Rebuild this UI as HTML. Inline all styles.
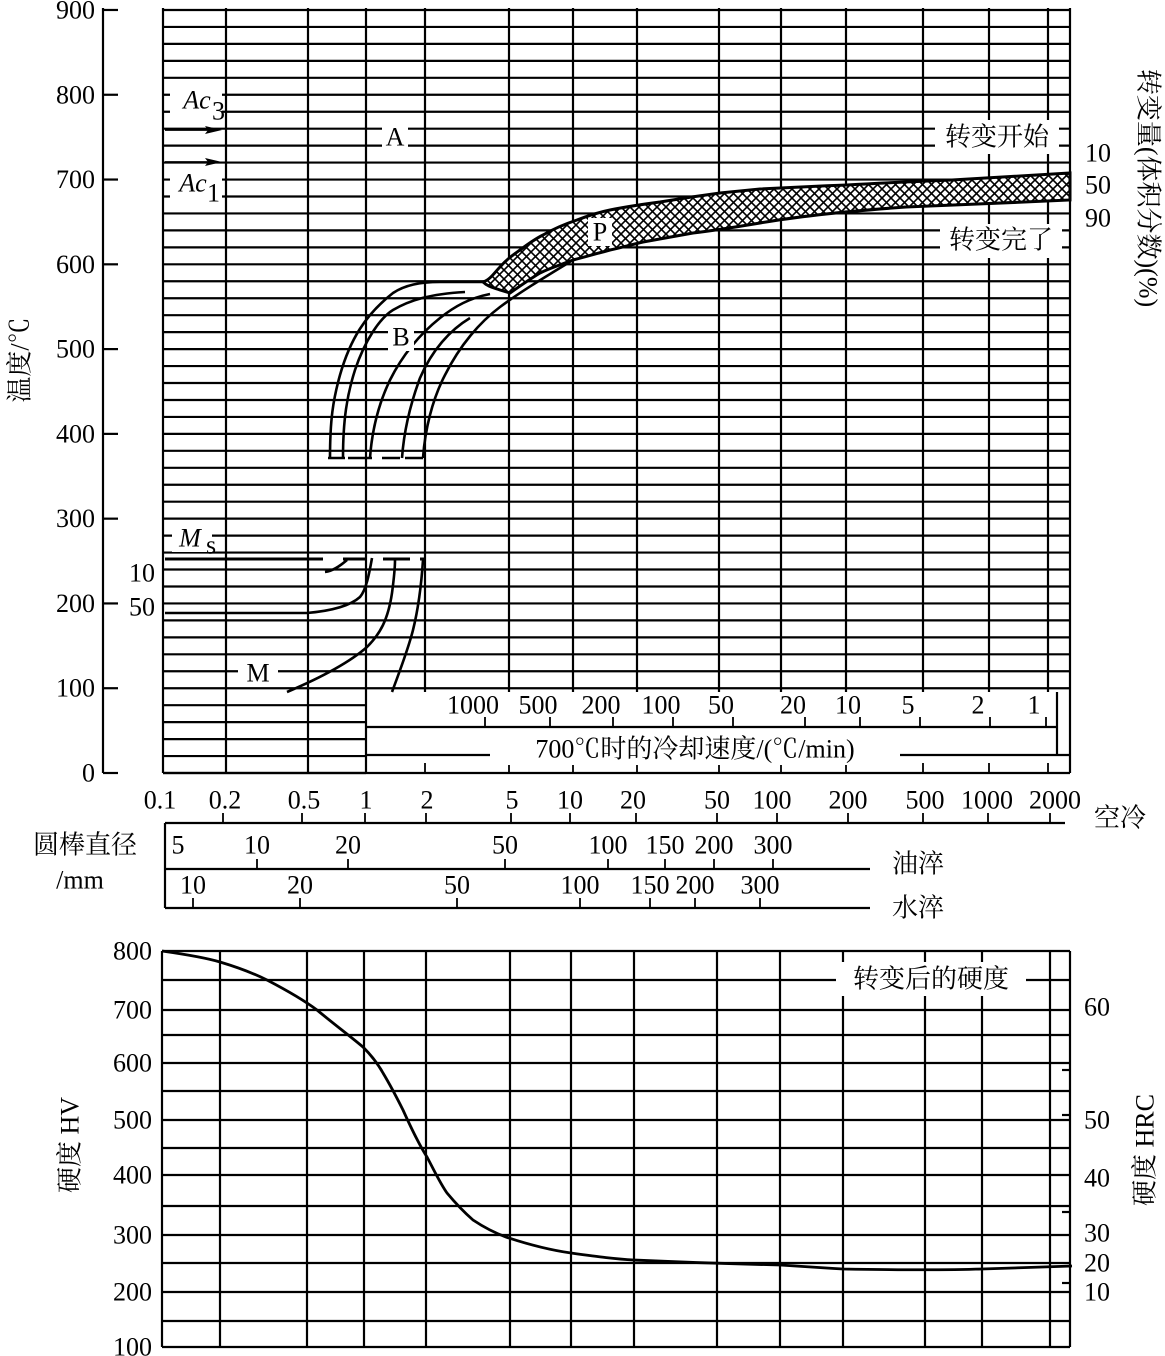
<!DOCTYPE html>
<html><head><meta charset="utf-8">
<style>
html,body{margin:0;padding:0;background:#fff;}
svg{display:block;}
text{font-family:"Liberation Serif","Noto Serif CJK SC",serif;font-size:26px;fill:#000;}
.c{font-family:"Liberation Serif","Noto Serif CJK SC",serif;}
</style></head>
<body>
<svg id="s" width="1165" height="1356" viewBox="0 0 1165 1356" xmlns="http://www.w3.org/2000/svg">
<defs>
<pattern id="h" width="9" height="9" patternUnits="userSpaceOnUse">
<rect width="9" height="9" fill="#fff"/>
<path d="M0,0L9,9M9,0L0,9" stroke="#000" stroke-width="1.6"/>
</pattern>
</defs>
<g id="grid" stroke="#000" stroke-width="2.2" fill="none"></g>

<path d="M483,282 C490,280 495,272 500,267 C507,259 513,255 520,250 C528,244 535,239 543,235 C555,228 565,224 577,220 C590,215 600,212 610,210 C630,206 645,204 660,202 C690,197 705,195 720,193 C740,191 750,190 760,189 C800,187 820,186 847,185 C900,182 930,181 952,180 C1000,177 1040,175 1070,173
L1070,200 C1020,202 960,205 906,207 C850,211 800,216 760,223 C730,228 710,231 693,233 C670,237 655,240 643,242 C630,245 620,248 610,250 C595,254 585,257 573,260 C560,265 550,268 540,273 C530,279 520,286 510,293 L500,290 C495,288 488,287 483,282 Z" fill="url(#h)" stroke="#000" stroke-width="3"/>

<g stroke="#000" stroke-width="2.6" fill="none">
<path d="M330,458 C330,420 333,400 340,375 C350,340 365,315 393,293 C405,285 420,282 440,282 C460,282 475,282 483,282"/>
<path d="M343,458 C343,420 347,395 355,370 C365,340 380,318 393,310 C410,300 430,294 465,292"/>
<path d="M370,458 C372,430 378,405 390,380 C405,350 425,330 440,318 C455,306 470,298 490,294"/>
<path d="M402,458 C404,430 410,405 420,378 C432,350 450,330 470,318"/>
<path d="M423,458 C425,430 432,400 445,375 C460,345 480,322 500,307 C520,292 545,277 573,260"/>
<path d="M328,458H345 M348,458H372 M382,458H400 M405,458H423"/>
<path d="M165,559H323 M343,559H367 M383,559H410 M420,559H424" stroke-width="3"/>
<path d="M325,572 C333,571 340,566 347,560" />
<path d="M165,613H307 C330,611 350,606 360,597 C366,590 369,575 372,558"/>
<path d="M287,692 C320,678 350,662 367,647 C380,634 388,620 392,593 C394,578 395,568 395,560"/>
<path d="M392,692 C400,670 408,650 413,630 C418,610 421,590 423,560"/>
<path d="M162,951 C190,955 210,959 220,962 C240,968 255,974 267,980 C290,992 305,1001 317,1010 C335,1025 350,1036 363,1047 C372,1056 378,1064 383,1073 C392,1088 398,1100 403,1110 C412,1130 420,1146 427,1157 C435,1172 440,1183 447,1193 C457,1205 465,1213 473,1220 C485,1228 495,1233 506,1237 C530,1245 550,1250 571,1253 C600,1257 615,1259 634,1260 C700,1263 740,1264 780,1265 C810,1267 825,1268 843,1269 C900,1270 950,1270 982,1269 C1020,1268 1045,1267 1072,1266" stroke-width="2.8"/>
</g>

<g stroke="#000" stroke-width="1.8">
<line x1="165" y1="130" x2="215" y2="130"/><line x1="165" y1="162" x2="215" y2="162"/>
</g>
<path d="M222,130 L205,126 L208,130 L205,134Z M222,162 L205,158 L208,162 L205,166Z" fill="#000"/>

<g id="txt"></g>
</svg>
<script>
var NS="http://www.w3.org/2000/svg";
var g=document.getElementById('grid'), t=document.getElementById('txt');
function L(x1,y1,x2,y2,w){var e=document.createElementNS(NS,'line');e.setAttribute('x1',x1);e.setAttribute('y1',y1);e.setAttribute('x2',x2);e.setAttribute('y2',y2);if(w)e.setAttribute('stroke-width',w);g.appendChild(e);}
function T(x,y,s,a,o){var e=document.createElementNS(NS,'text');e.setAttribute('x',x);e.setAttribute('y',y);e.setAttribute('text-anchor',a||'middle');e.setAttribute('dominant-baseline','central');if(o){for(var k in o)e.setAttribute(k,o[k]);}e.textContent=s;t.appendChild(e);return e;}
function WB(x,y,w,h){var e=document.createElementNS(NS,'rect');e.setAttribute('x',x);e.setAttribute('y',y);e.setAttribute('width',w);e.setAttribute('height',h);e.setAttribute('fill','#fff');t.appendChild(e);}
var Y0=773, K=0.8478;
for(var T0=0;T0<=900;T0+=20){var y=Y0-T0*K;L(163,y,(y>693.5?366:1070),y);}
var vx=[163,226,308,366,425,509,573,637,719,781,846,923,989,1048,1070];
vx.forEach(function(x){L(x,8,x,(x<=366||x==1070)?773:692);});
L(163,773,1070,773);
L(366,727,1057,727);L(1057,692,1057,755);
L(366,755,490,755);L(900,755,1070,755);
var rt=[485,550,613,673,733,805,860,920,990,1046];
rt.forEach(function(x){L(x,717,x,727,1.8);});
[425,509,573,637,719,781,846,923,989,1048].forEach(function(x){L(x,763,x,773,1.8);});
var rl=['1000','500','200','100','50','20','10','5','2','1'];
rl.forEach(function(s,i){T(rt[i]-12,705,s);});
WB(495,735,400,30);
T(695,749,'700℃时的冷却速度/(℃/min)','middle',{'class':'c'});
L(103,8,103,773);
for(var v=0;v<=900;v+=100){var y=Y0-v*K;L(103,y,118,y);T(95,y,String(v),'end');}
T(20,360,'温度/℃','middle',{transform:'rotate(-90 20 360)','class':'c'});
T(1098,153,'10');T(1098,185,'50');T(1098,218,'90');
T(1148,188,'转变量(体积分数)(%)','middle',{transform:'rotate(90 1148 188)','class':'c'});
WB(170,86,52,30);T(197,100,'Ac','middle',{'font-style':'italic'});T(212,111,'3','start',{'font-size':'18'});
WB(170,168,52,30);T(193,183,'Ac','middle',{'font-style':'italic'});T(207,193,'1','start',{'font-size':'18'});
WB(382,123,26,28);T(395,137,'A');
WB(388,323,26,28);T(401,337,'B');
WB(588,218,24,28);T(600,232,'P');
WB(172,524,40,28);T(190,538,'M','middle',{'font-style':'italic'});T(206,545,'s','start',{'font-size':'18'});
WB(238,659,40,28);T(258,673,'M');
T(142,573,'10');T(142,607,'50');
WB(935,120,124,34);T(997,137,'转变开始','middle',{'class':'c'});
WB(940,224,122,34);T(1001,240,'转变完了','middle',{'class':'c'});
var bx=[[160,'0.1'],[225,'0.2'],[304,'0.5'],[366,'1'],[427,'2'],[512,'5'],[570,'10'],[633,'20'],[717,'50'],[772,'100'],[848,'200'],[925,'500'],[987,'1000'],[1055,'2000']];
bx.forEach(function(p){T(p[0],800,p[1]);});
T(1120,818,'空冷','middle',{'class':'c'});
L(165,823,1065,823);L(165,823,165,908);
[223,302,365,426,511,570,636,717,777,848,923,988,1050].forEach(function(x){L(x,813,x,823,1.8);});
L(165,869,870,869);L(165,908,870,908);
[[178,'5'],[257,'10'],[348,'20'],[505,'50'],[608,'100'],[665,'150'],[714,'200'],[773,'300']].forEach(function(p){T(p[0],845,p[1]);if(p[1]!='5')L(p[0],859,p[0],869,1.8);});
[[193,'10'],[300,'20'],[457,'50'],[580,'100'],[650,'150'],[695,'200'],[760,'300']].forEach(function(p){T(p[0],885,p[1]);L(p[0],898,p[0],908,1.8);});
T(918,864,'油淬','middle',{'class':'c'});T(918,908,'水淬','middle',{'class':'c'});
T(85,845,'圆棒直径','middle',{'class':'c'});T(80,880,'/mm','middle');
var hy=[951,980,1010,1035,1063,1091,1120,1148,1175,1206,1235,1263,1292,1321,1347];
hy.forEach(function(y){L(162,y,1070,y);});
[162,220,307,364,426,510,571,634,717,780,843,925,982,1050,1070].forEach(function(x){L(x,951,x,1347);});
[[951,'800'],[1010,'700'],[1063,'600'],[1120,'500'],[1175,'400'],[1235,'300'],[1292,'200'],[1347,'100']].forEach(function(p){T(152,p[0],p[1],'end');});
T(70,1145,'硬度  HV','middle',{transform:'rotate(-90 70 1145)','class':'c'});
[[1007,'60'],[1120,'50'],[1178,'40'],[1233,'30'],[1263,'20'],[1292,'10']].forEach(function(p){T(1097,p[0],p[1]);});
[1070,1115,1212,1283].forEach(function(y){L(1062,y,1070,y);});
T(1145,1150,'硬度  HRC','middle',{transform:'rotate(-90 1145 1150)','class':'c'});
WB(836,962,190,34);T(931,979,'转变后的硬度','middle',{'class':'c'});
</script>
</body></html>
